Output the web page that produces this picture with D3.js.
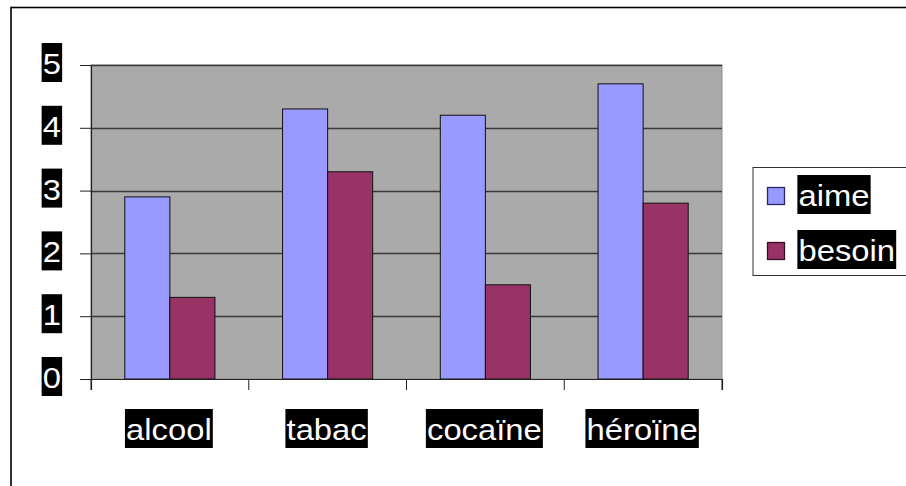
<!DOCTYPE html>
<html>
<head>
<meta charset="utf-8">
<script src="https://cdn.jsdelivr.net/npm/d3@7"></script>
<style>
  html, body { margin: 0; padding: 0; background: #fff; }
  svg { display: block; }
  text { font-family: "Liberation Sans", Arial, sans-serif; }
</style>
</head>
<body>
<svg id="chart" width="906" height="486"></svg>
<script>
// Data
const categories = ["alcool", "tabac", "cocaïne", "héroïne"];
const seriesNames = ["aime", "besoin"];
const aime = [2.9, 4.3, 4.2, 4.7];
const besoin = [1.3, 3.3, 1.5, 2.8];
const yTicks = [0, 1, 2, 3, 4, 5];

const seriesValues = { aime, besoin };
const colors = { aime: "#9999FF", besoin: "#993366" };

const svg = d3.select("#chart");
const W = 906, H = 486;
const plot = { left: 91, right: 722, top: 65, bottom: 379 };

// Outer chart frame (runs off the right and bottom edges)
svg.append("rect")
  .attr("x", 11).attr("y", 7.5)
  .attr("width", W + 10).attr("height", H + 10)
  .attr("fill", "#fff").attr("stroke", "#000").attr("stroke-width", 1.6);

const x0 = d3.scaleBand().domain(categories).range([plot.left, plot.right]).padding(0);
const x1 = d3.scaleBand().domain(seriesNames).range([0, x0.bandwidth()])
  .paddingInner(0).paddingOuter(0.75);
const y = d3.scaleLinear().domain([0, 5]).range([plot.bottom, plot.top]);

// Plot background
svg.append("rect")
  .attr("x", plot.left).attr("y", plot.top)
  .attr("width", plot.right - plot.left).attr("height", plot.bottom - plot.top)
  .attr("fill", "#AAAAAA").attr("stroke", "#8f8f8f").attr("stroke-width", 1);

// Gridlines
svg.append("g").selectAll("line").data(yTicks.filter(d => d > 0)).join("line")
  .attr("x1", plot.left).attr("x2", plot.right)
  .attr("y1", d => Math.round(y(d)) + 0.5).attr("y2", d => Math.round(y(d)) + 0.5)
  .attr("stroke", "#3a3a3a").attr("stroke-width", 1.3);

// Bars
const groups = svg.append("g").selectAll("g").data(categories).join("g")
  .attr("transform", d => `translate(${x0(d)},0)`);
groups.selectAll("rect")
  .data((c, i) => seriesNames.map(s => ({ s, v: seriesValues[s][i] })))
  .join("rect")
  .attr("x", d => x1(d.s))
  .attr("y", d => y(d.v))
  .attr("width", x1.bandwidth())
  .attr("height", d => y(0) - y(d.v))
  .attr("fill", d => colors[d.s])
  .attr("stroke", "#111").attr("stroke-width", 1);

// Axes
const yAxis = d3.axisLeft(y).tickValues(yTicks).tickSize(11).tickFormat("");
const yg = svg.append("g").attr("transform", `translate(${plot.left},0)`).call(yAxis);
const xAxis = d3.axisBottom(x0.copy().range([plot.left, plot.right])).tickSize(11).tickFormat("");
const xg = svg.append("g").attr("transform", `translate(0,${plot.bottom})`).call(xAxis);
// category boundary ticks instead of centred ones
xg.selectAll(".tick").remove();
const bounds = categories.map(c => x0(c)).concat([plot.right]);
xg.selectAll("line.b").data(bounds).join("line").attr("class", "b")
  .attr("x1", d => d).attr("x2", d => d).attr("y1", 0).attr("y2", 11)
  .attr("stroke", "#222").attr("stroke-width", 1);
[yg, xg].forEach(g => g.select(".domain").attr("stroke", "#222").attr("stroke-width", 1.2));
yg.selectAll(".tick line").attr("stroke", "#222");

// White label on a black box
const FS = 29, SX = 1.13;
function boxedLabel(parent, str, tx, ty, anchor) {
  const g = parent.append("g").attr("transform", `translate(${tx},${ty}) scale(${SX},1)`);
  const t = g.append("text").attr("x", 0).attr("y", 0)
    .attr("text-anchor", anchor).attr("font-size", FS).attr("fill", "#fff").text(str);
  const bb = t.node().getBBox();
  g.insert("rect", "text")
    .attr("x", bb.x - 1).attr("y", -31)
    .attr("width", bb.width + 2).attr("height", 39)
    .attr("fill", "#000");
  return g;
}

// Y tick labels
const yl = svg.append("g");
yTicks.forEach(v => boxedLabel(yl, String(v), 61, y(v) + 9, "end"));

// Category labels
const xl = svg.append("g");
categories.forEach(c => boxedLabel(xl, c, x0(c) + x0.bandwidth() / 2 - 1, 440, "middle"));

// Legend
const leg = svg.append("g");
leg.append("rect")
  .attr("x", 753).attr("y", 167.5).attr("width", 160).attr("height", 108)
  .attr("fill", "#fff").attr("stroke", "#333").attr("stroke-width", 1);
const legendRows = [{ s: "aime", cy: 196 }, { s: "besoin", cy: 251 }];
legendRows.forEach(r => {
  leg.append("rect")
    .attr("x", 767.5).attr("y", r.cy - 8.5).attr("width", 17).attr("height", 17)
    .attr("fill", colors[r.s]).attr("stroke", r.s === "aime" ? "#2a2a6a" : "#3a0f22").attr("stroke-width", 1.3);
  boxedLabel(leg, r.s, 798.5, r.cy + 10, "start");
});
</script>
</body>
</html>
